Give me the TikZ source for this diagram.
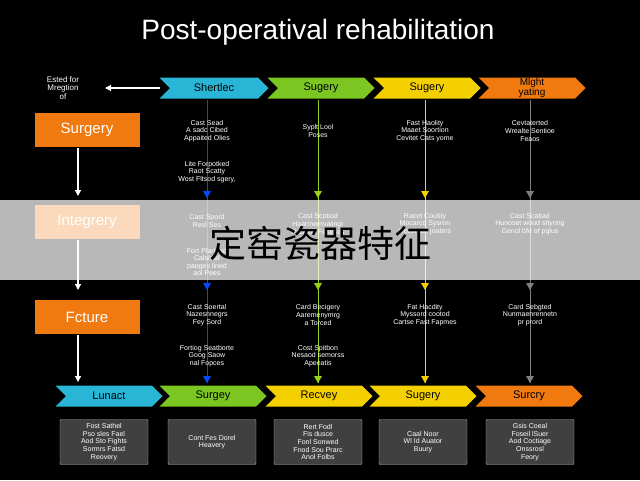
\documentclass[tikz,border=0pt]{standalone}
\usepackage{fontspec}
\setmainfont{Liberation Sans}
\newfontfamily\cjk{Noto Sans CJK SC}
\usetikzlibrary{shapes.symbols,arrows.meta}
\definecolor{ccy}{HTML}{29B6D6}
\definecolor{cgr}{HTML}{7CC622}
\definecolor{cye}{HTML}{F5D000}
\definecolor{cor}{HTML}{F07A10}
\begin{document}
\begin{tikzpicture}[x=1pt,y=-1pt,
 chev/.style={signal,signal to=east,signal from=west,minimum height=21pt,text width=#1,align=center,inner sep=0pt,font=\fontsize{11}{11}\selectfont,text=black},
 lbox/.style={fill=cor,minimum width=105pt,minimum height=34pt,font=\fontsize{15}{15}\selectfont,text=white},
 sm/.style={text=white,align=center,font=\fontsize{7}{7.6}\selectfont},
 dbox/.style={fill=black!75!white,draw=gray!60,rounded corners=1pt,minimum width=88pt,minimum height=45pt,sm},
 ar/.style={-{Triangle[length=6pt,width=6pt]},line width=1.2pt,white},
 vl/.style={line width=0.8pt}]
\fill[black] (0,0) rectangle (640,480);
\node[text=white,font=\fontsize{28}{28}\selectfont] (title) at (318,32) {Post-operatival rehabilitation};
% left
\node[sm,font=\fontsize{8}{8.5}\selectfont] (est) at (63,88) {Ested for\\ Mregtion\\ of};
\coordinate (estR) at (160,88);
\draw[ar] (estR) -- (105,88);
\node[lbox] (l1) at (87,130) {Surgery};
\node[lbox] (l2) at (87,222) {Integrery};
\node[lbox] (l3) at (87,317) {Fcture};
\coordinate (l4) at (78,382);
\draw[ar] (78,148) -- (78,196);
\draw[ar] (78,240) -- (78,290);
\draw[ar] (78,335) -- (l4);
% top chevrons
\node[chev=88pt,fill=ccy] (t1) at (214,88) {Shertlec};
\node[chev=86pt,fill=cgr] (t2) at (321,88) {Sugery};
\node[chev=86pt,fill=cye] (t3) at (427,88) {Sugery};
\node[chev=86pt,fill=cor,font=\fontsize{10}{9}\selectfont] (t4) at (532,88) {Mlght\\yating};
% bottom chevrons
\node[chev=86pt,fill=ccy] (b1) at (109,396) {Lunact};
\node[chev=86pt,fill=cgr] (b2) at (213,396) {Surgey};
\node[chev=86pt,fill=cye] (b3) at (319,396) {Recvey};
\node[chev=86pt,fill=cye] (b4) at (423,396) {Sugery};
\node[chev=86pt,fill=cor] (b5) at (529,396) {Surcry};
% vertical lines
\foreach \x/\c/\b in {207/blue!70!cyan/b2,318/cgr!80!yellow/b3,425/cye/b4,530/gray/b5}{
 \draw[vl,\c] (\x,100) -- (\x,383);
 \foreach \y in {198,290,383}{\fill[\c] (\x-4,\y-7) -- (\x+4,\y-7) -- (\x,\y) -- cycle;}
}
% column texts
\node[sm] (a1) at (207,131) {Cast Sead\\ A sadc Cibed\\ Appaited Olies};
\node[sm] (a2) at (207,172) {Lite Forpotked\\ Raot Scatty\\ Wost Fltsod sgery,};
\node[sm] (a3) at (207,221) {Cast Spord\\ Resl Ses};
\node[sm] (a4) at (207,262) {Fort Plarined\\ Calsirad\\ paoges lined\\ aol Pees};
\node[sm] (a5) at (207,315) {Cast Soertal\\ Nazesnnegrs\\ Fey Sord};
\node[sm] (a6) at (207,356) {Fortiog Seatborte\\ Goog Saow\\ nal Fopces};
\node[sm] (c1) at (318,131) {Syplt Lool\\ Poses};
\node[sm] (c2) at (318,224) {Cast Scotiod\\ Haarmemvaiingr\\ Raurton Feseses};
\node[sm] (c3) at (318,315) {Card Becigery\\ Aaremenymrg\\ a Torced};
\node[sm] (c4) at (318,356) {Cost Spitbon\\ Nesaod semorss\\ Apeeatis};
\node[sm] (d1) at (425,131) {Fast Haolity\\ Maaet Soortion\\ Cevitet Cats yome};
\node[sm] (d2) at (425,224) {Racet Coutity\\ Mocarcd Sysron\\ Cotist aaf joaters};
\node[sm] (d3) at (425,315) {Fat Hacdity\\ Myssord cootod\\ Cartse Fast Fapmes};
\node[sm] (e1) at (530,131) {Cevtaterted\\ Wrealte Sentioe\\ Feaos};
\node[sm] (e2) at (530,224) {Cast Scatiad\\ Hunoset wood sttyring\\ Genol bfe of pglus};
\node[sm] (e3) at (530,315) {Card Sebgted\\ Nunmaenrennetn\\ pr prord};
% bottom boxes
\node[dbox] (k1) at (104,442) {Fost Sathel\\ Pso sles Fael\\ Aod Sto Fights\\ Sormrs Fatsd\\ Reovery};
\node[dbox] (k2) at (212,442) {Cont Fes Dorel\\ Heavery};
\node[dbox] (k3) at (318,442) {Rert Fodl\\ Fis dusce\\ Fonl Sonwed\\ Fnod Sou Prarc\\ Anol Folbs};
\node[dbox] (k4) at (423,442) {Caal Noor\\ Wl Id Auator\\ Buury};
\node[dbox] (k5) at (530,442) {Gsis Coeal\\ Foseil lSuer\\ Aod Coctiage\\ Onssrosl\\ Feory};
% overlay band
\fill[white,opacity=0.72] (0,200) rectangle (640,280);
\node[font=\cjk\fontsize{37}{37}\selectfont,text=black] (cn) at (320,243) {定窑瓷器特征};
\end{tikzpicture}
\end{document}
